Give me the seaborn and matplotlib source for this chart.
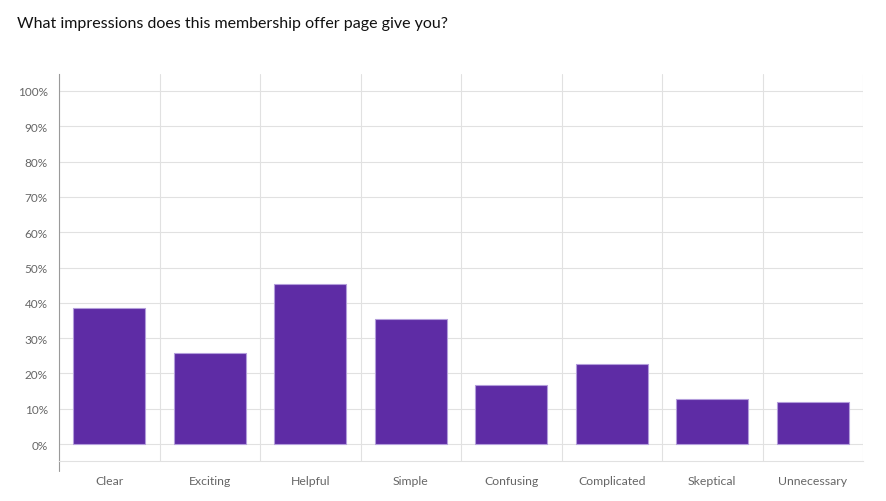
import matplotlib
matplotlib.use("Agg")
import matplotlib.pyplot as plt
import seaborn as sns
import numpy as np

title = "What impressions does this membership offer page give you?"
categories = ["Clear", "Exciting", "Helpful", "Simple", "Confusing",
              "Complicated", "Skeptical", "Unnecessary"]
percents = [38.5, 25.8, 45.3, 35.4, 16.7, 22.7, 12.7, 11.8]
y_ticks = [0, 10, 20, 30, 40, 50, 60, 70, 80, 90, 100]

sns.set_theme(style="white")
plt.rcParams["font.family"] = ["Lato", "DejaVu Sans"]

fig = plt.figure(figsize=(8.86, 5.02), dpi=100)
ax = fig.add_axes([59 / 886, 1 - 462 / 502, (863 - 59) / 886, (462 - 75) / 502])

sns.barplot(x=categories, y=percents, color="#5e2ca5", saturation=1,
            width=0.72, edgecolor="#b39ddb", linewidth=0.8, ax=ax, zorder=3)

ax.set_xlim(-0.5, len(categories) - 0.5)
ax.set_ylim(-4.8, 104.8)
ax.set_yticks(y_ticks)
ax.set_yticklabels([f"{t}%" for t in y_ticks])

grid_c = "#e1e1e1"
for t in y_ticks:
    ax.axhline(t, color=grid_c, linewidth=0.8, zorder=0)
ax.set_xticks(np.arange(-0.5, len(categories)), minor=True)
ax.grid(axis="x", which="minor", color=grid_c, linewidth=0.8, zorder=0)
ax.tick_params(axis="x", which="minor", length=10, color=grid_c, width=0.8)
ax.tick_params(axis="x", which="major", length=0, pad=10, labelsize=8.8, labelcolor="#666666")
ax.tick_params(axis="y", length=0, pad=8, labelsize=8.5, labelcolor="#666666")
# left spine continues down through the tick area
ax.plot([-0.5, -0.5], [-4.8, -7.6], color="#9a9a9a", linewidth=0.8, clip_on=False)

for side in ["top", "right"]:
    ax.spines[side].set_visible(False)
ax.spines["bottom"].set_color(grid_c)
ax.spines["bottom"].set_linewidth(0.8)
ax.spines["left"].set_color("#9a9a9a")
ax.spines["left"].set_linewidth(0.8)
ax.set_xlabel("")
ax.set_ylabel("")

fig.text(17 / 886, 1 - 24 / 502, title, fontsize=11.5, color="#111111", va="center", ha="left")

fig.savefig("out.png", dpi=100)
